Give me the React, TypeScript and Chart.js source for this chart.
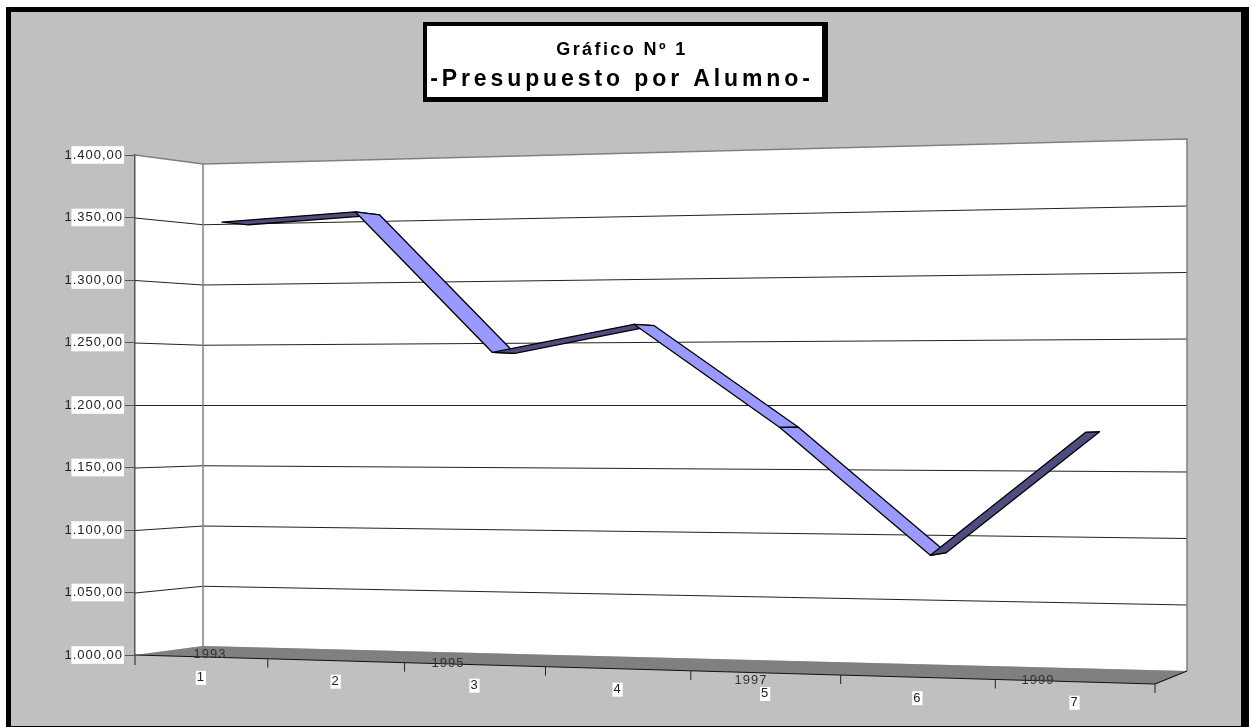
import React, { useEffect, useRef } from "react";
import { Chart, registerables } from "chart.js";

Chart.register(...registerables);

const categories = ["1", "2", "3", "4", "5", "6", "7"];
const presupuesto = [1347, 1353, 1241, 1262, 1183, 1088, 1180];
const yearLabels = ["1993", "1995", "1997", "1999"];
const TITLE = "Gráfico Nº 1";
const SUBTITLE = "-Presupuesto por Alumno-";

const FONT = "'Liberation Sans', Arial, sans-serif";
const formatTick = (v: number) => {
  const [a, b] = Number(v).toFixed(2).split(".");
  return a.replace(/\B(?=(\d{3})+$)/g, ".") + "," + b;
};

// Floor outline of the 3D box, on screen: front-left, front-right, back-right, back-left
const FLOOR = [
  [135, 655],
  [1155, 684],
  [1187, 671],
  [203, 646],
];
const PERSPECTIVE = -0.102;
const RIBBON_NEAR = 0.32;
const RIBBON_FAR = 0.72;
const YEAR_SPOTS = [
  [210, 654],
  [448, 663],
  [751, 680],
  [1038, 680],
];

const floor = (u: number, w: number) => {
  const t = (u * (1 + PERSPECTIVE)) / (1 + PERSPECTIVE * u);
  const [[x0, y0], [x1, y1], [x2, y2], [x3, y3]] = FLOOR;
  const fx = x0 + (x1 - x0) * t, fy = y0 + (y1 - y0) * t;
  const bx = x3 + (x2 - x3) * t, by = y3 + (y2 - y3) * t;
  return [fx + (bx - fx) * w, fy + (by - fy) * w];
};

// Takes pixels given by the chart's scales and throws them into the box's perspective.
function projector(chart: any) {
  const { left, right, top, bottom } = chart.chartArea;
  const horizon = (top + bottom) / 2;
  const at = (u: number, v: number, w: number) => {
    const [x, yf] = floor(u, w);
    return [x, horizon + (yf - horizon) * (1 - 2 * v)];
  };
  return {
    at,
    uOf: (px: number) => (px - left) / (right - left),
    vOf: (py: number) => (bottom - py) / (bottom - top),
  };
}

function poly(ctx: any, pts: number[][]) {
  ctx.beginPath();
  pts.forEach((p, i) => (i ? ctx.lineTo(p[0], p[1]) : ctx.moveTo(p[0], p[1])));
}

const box3d = {
  id: "box3d",
  beforeDraw(chart: any) {
    const { ctx, width, height } = chart;
    ctx.letterSpacing = "1px";
    ctx.save();
    ctx.fillStyle = "#fff";
    ctx.fillRect(0, 0, width, height);
    ctx.fillStyle = "#000";
    ctx.fillRect(6, 7, 1243, 720);
    ctx.fillStyle = "#C0C0C0";
    ctx.fillRect(11, 12, 1230, 714);
    // title box
    ctx.fillStyle = "#000";
    ctx.fillRect(423, 22, 405, 80);
    ctx.fillStyle = "#fff";
    ctx.fillRect(427, 26, 395, 71);
    ctx.restore();
    // per-title letter spacing
    for (const b of chart.boxes) {
      if (b.options && b.options.text && !b.__spaced) {
        b.__spaced = true;
        const draw = b.draw.bind(b);
        const spacing = b.options.text === TITLE ? "2.4px" : "3.9px";
        b.draw = (area: any) => {
          const c = b.ctx;
          const prev = c.letterSpacing;
          c.letterSpacing = spacing;
          draw(area);
          c.letterSpacing = prev;
        };
      }
    }
    const { at } = projector(chart);
    ctx.save();
    // walls
    ctx.fillStyle = "#fff";
    poly(ctx, [at(0, 1, 0), at(0, 1, 1), at(1, 1, 1), at(1, 0, 1), at(0, 0, 1), at(0, 0, 0)]);
    ctx.closePath();
    ctx.fill();
    // floor
    ctx.fillStyle = "#808080";
    poly(ctx, [at(0, 0, 0), at(1, 0, 0), at(1, 0, 1), at(0, 0, 1)]);
    ctx.closePath();
    ctx.fill();
    ctx.restore();
  },
  beforeDatasetsDraw(chart: any) {
    const { ctx } = chart;
    const { at, vOf } = projector(chart);
    const yScale = chart.scales.y;
    ctx.save();
    ctx.lineWidth = 1;
    // grid lines from the y scale's ticks
    ctx.save();
    ctx.translate(0, 0.5);
    yScale.ticks.forEach((t: any) => {
      const v = vOf(yScale.getPixelForValue(t.value));
      if (v <= 0 || v >= 1) return;
      ctx.strokeStyle = "#222";
      poly(ctx, [at(0, v, 0), at(0, v, 1), at(1, v, 1)]);
      ctx.stroke();
    });
    ctx.restore();
    ctx.strokeStyle = "#808080";
    ctx.lineWidth = 1.5;
    poly(ctx, [at(0, 1, 0), at(0, 1, 1), at(1, 1, 1), at(1, 0, 1)]);
    ctx.stroke();
    poly(ctx, [at(0, 1, 1), at(0, 0, 1)]);
    ctx.stroke();
    // floor front and side edges, category ticks
    ctx.strokeStyle = "#111";
    ctx.lineWidth = 1.2;
    poly(ctx, [at(0, 0, 0), at(1, 0, 0), at(1, 0, 1)]);
    ctx.stroke();
    ctx.strokeStyle = "#222";
    ctx.lineWidth = 1;
    const n = categories.length;
    for (let i = 1; i <= n; i++) {
      const [x, y] = at(i / n, 0, 0);
      poly(ctx, [[x, y], [x, y + 9]]);
      ctx.stroke();
    }
    const [ax, ay] = at(0, 0, 0);
    ctx.strokeStyle = "#555";
    ctx.lineWidth = 1.5;
    poly(ctx, [[ax, ay], [ax, ay + 10]]);
    ctx.stroke();
    ctx.restore();
  },
  afterDatasetsDraw(chart: any) {
    const { ctx } = chart;
    const { at, uOf, vOf } = projector(chart);
    const pts = chart.getDatasetMeta(0).data;
    ctx.save();
    ctx.lineJoin = "round";
    ctx.strokeStyle = "#000";
    ctx.lineWidth = 1.3;
    for (let i = 0; i + 1 < pts.length; i++) {
      const a = pts[i], b = pts[i + 1];
      const ua = uOf(a.x), va = vOf(a.y), ub = uOf(b.x), vb = vOf(b.y);
      ctx.fillStyle = vb < va ? "#9999FF" : "#4D4D80";
      poly(ctx, [
        at(ua, va, RIBBON_NEAR),
        at(ub, vb, RIBBON_NEAR),
        at(ub, vb, RIBBON_FAR),
        at(ua, va, RIBBON_FAR),
      ]);
      ctx.closePath();
      ctx.fill();
      ctx.stroke();
    }
    // category labels along the projected axis
    const xScale = chart.scales.x;
    ctx.font = `13px ${FONT}`;
    ctx.textAlign = "center";
    ctx.textBaseline = "middle";
    categories.forEach((label, i) => {
      const [x, y] = at(uOf(xScale.getPixelForValue(i)), 0, 0);
      const ly = y + 21;
      const w = ctx.measureText(label).width;
      ctx.fillStyle = "#fff";
      ctx.fillRect(x - w / 2 - 1, ly - 7, w + 2, 14);
      ctx.fillStyle = "#222";
      ctx.fillText(label, x, ly);
    });
    ctx.fillStyle = "#333";
    yearLabels.forEach((label, i) => {
      ctx.fillText(label, YEAR_SPOTS[i][0], YEAR_SPOTS[i][1]);
    });
    ctx.restore();
  },
};

export default function App() {
  const ref = useRef<HTMLCanvasElement>(null);
  useEffect(() => {
    const chart = new Chart(ref.current as HTMLCanvasElement, {
      type: "line",
      data: {
        labels: categories,
        datasets: [
          {
            label: "Presupuesto por Alumno",
            data: presupuesto,
            showLine: false,
            pointRadius: 0,
            borderColor: "#000",
            backgroundColor: "#9999FF",
          },
        ],
      },
      options: {
        responsive: false,
        animation: false,
        layout: { padding: { top: 30, left: 0, right: 8, bottom: 72 } },
        plugins: {
          legend: { display: false },
          tooltip: { enabled: false },
          title: {
            display: true,
            text: TITLE,
            color: "#000",
            font: { family: FONT, size: 18, weight: "bold" },
            padding: { top: 9, bottom: 0 },
          },
          subtitle: {
            display: true,
            text: SUBTITLE,
            color: "#000",
            font: { family: FONT, size: 23, weight: "bold" },
            padding: { top: 5.6, bottom: 61.2 },
          },
        },
        scales: {
          x: { type: "category", offset: true, display: false },
          y: {
            min: 1000,
            max: 1400,
            afterFit(s: any) {
              s.width = 135;
            },
            border: { display: true, color: "#555", width: 1.5 },
            grid: { display: true, drawOnChartArea: false, drawTicks: true, tickLength: 10, color: "#555" },
            ticks: {
              stepSize: 50,
              padding: 2,
              color: "#222",
              font: { family: FONT, size: 13 },
              showLabelBackdrop: true,
              backdropColor: "#fff",
              backdropPadding: 1,
              callback: (v: any) => formatTick(v),
            },
          },
        },
      },
      plugins: [box3d],
    } as any);
    return () => chart.destroy();
  }, []);
  return (
    <canvas
      ref={ref}
      width={1252}
      height={727}
      style={{ position: "absolute", left: 0, top: 0, display: "block" }}
    />
  );
}
